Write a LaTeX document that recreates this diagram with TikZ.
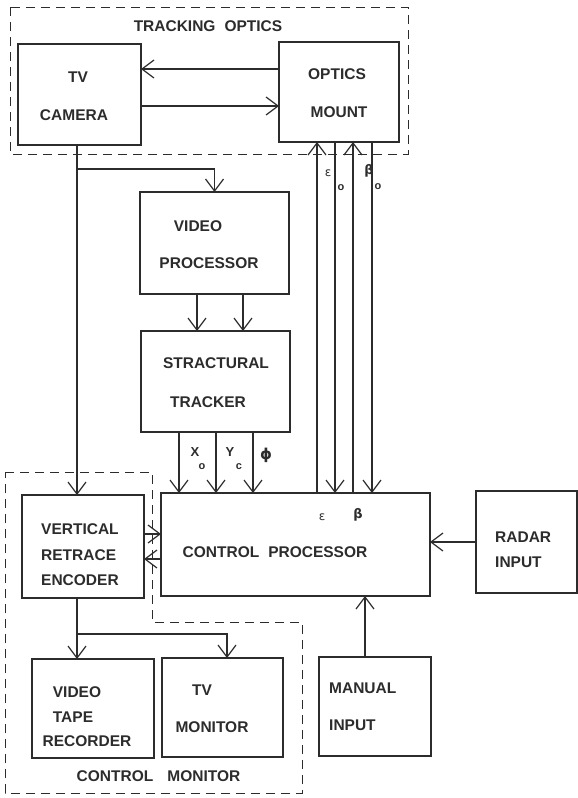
\documentclass[tikz,border=0pt]{standalone}
\usepackage{fontspec}
\setmainfont{Liberation Sans}
\newfontfamily\grk{DejaVu Sans}
\usetikzlibrary{arrows.meta}
\definecolor{ink}{HTML}{2C2C2C}
\begin{document}
\begin{tikzpicture}[x=1pt,y=-1pt,
  box/.style={draw=ink, line width=1.2pt, inner sep=0pt, outer sep=0pt},
  arr/.style={draw=ink, line width=1.2pt, -{Straight Barb[length=12pt,width=18pt,line width=1.2pt]}},
  dashbox/.style={draw=ink, line width=1pt, dash pattern=on 9pt off 6pt},
  lbl/.style={text=ink, inner sep=0pt, font=\fontsize{15.5}{18}\selectfont\bfseries},
  sym/.style={text=ink, inner sep=0pt, font=\fontsize{13}{15}\selectfont\bfseries},
  sub/.style={text=ink, inner sep=0pt, font=\fontsize{11}{12}\selectfont\bfseries},
  grksym/.style={text=ink, inner sep=0pt, font=\grk\fontsize{13}{15}\selectfont\bfseries}]
\useasboundingbox (0,0) rectangle (578,798);
\fill[white] (0,0) rectangle (578,798);

% dashed groups
\draw[dashbox] (10,7) rectangle (408,154);
\draw[dashbox] (5,472) -- (152,472) -- (152,622) -- (302,622) -- (302,793) -- (5,793) -- cycle;

% boxes
\node[box, minimum width=123pt, minimum height=101pt] (cam) at (79.5,94.5) {};
\node[box, minimum width=120pt, minimum height=100pt] (mount) at (339,92) {};
\node[box, minimum width=149pt, minimum height=102pt] (vp) at (214.5,243) {};
\node[box, minimum width=149pt, minimum height=101pt] (trk) at (215.5,381.5) {};
\node[box, minimum width=269pt, minimum height=103pt] (cp) at (295.5,544.5) {};
\node[box, minimum width=122pt, minimum height=103pt] (vre) at (83,546.5) {};
\node[box, minimum width=101pt, minimum height=102pt] (radar) at (526.5,542) {};
\node[box, minimum width=112pt, minimum height=99pt] (manual) at (375,706.5) {};
\node[box, minimum width=122pt, minimum height=99pt] (vtr) at (93,708.5) {};
\node[box, minimum width=121pt, minimum height=99pt] (tvm) at (222.5,707.5) {};

% labels
\node[lbl] (tTO) at (208,26) {TRACKING\hspace{9pt}OPTICS};
\node[lbl] (tTV) at (78,77) {TV};
\node[lbl] (tCAM) at (74,115) {CAMERA};
\node[lbl] (tOPT) at (337,74) {OPTICS};
\node[lbl] (tMNT) at (339,112) {MOUNT};
\node[lbl] (tVID) at (198,226) {VIDEO};
\node[lbl] (tPRO) at (209,263) {PROCESSOR};
\node[lbl] (tSTR) at (216,363) {STRACTURAL};
\node[lbl] (tTRK) at (208,402) {TRACKER};
\node[lbl] (tCP) at (275,552) {CONTROL\hspace{9pt}PROCESSOR};
\node[lbl, anchor=west] (tVER) at (41,529) {VERTICAL};
\node[lbl, anchor=west] (tRET) at (41,555) {RETRACE};
\node[lbl, anchor=west] (tENC) at (41,580) {ENCODER};
\node[lbl] (tVV) at (77,692) {VIDEO};
\node[lbl] (tTAPE) at (73,717) {TAPE};
\node[lbl] (tREC) at (87,741) {RECORDER};
\node[lbl] (tTV2) at (202,690) {TV};
\node[lbl] (tMON) at (212,727) {MONITOR};
\node[lbl, anchor=west] (tRAD) at (495,537) {RADAR};
\node[lbl, anchor=west] (tRIN) at (495,562) {INPUT};
\node[lbl, anchor=west] (tMAN) at (329,688) {MANUAL};
\node[lbl, anchor=west] (tMIN) at (329,725) {INPUT};
\node[lbl] (tCM) at (158.5,776) {CONTROL\hspace{14pt}MONITOR};

% symbols
\node[sym] (sX) at (195,452) {X};
\node[sub] (sXo) at (202,467) {o};
\node[sym] (sY) at (230,452) {Y};
\node[sub] (sYc) at (239,467) {c};
\node[grksym, font=\grk\fontsize{15}{17}\selectfont\bfseries] (sPhi) at (266,455) {ϕ};
\node[grksym, font=\grk\fontsize{12}{14}\selectfont] (sE) at (322,517) {ε};
\node[grksym] (sB) at (358,515) {β};
\node[grksym, font=\grk\fontsize{12}{14}\selectfont] (sE0) at (328,173) {ε};
\node[sub] (sE0o) at (341,188) {o};
\node[grksym] (sB0) at (369,171) {β};
\node[sub] (sB0o) at (378,187) {o};

% connectors
\draw[arr] (mount.west |- 0,69) -- (cam.east |- 0,69);
\draw[arr] (cam.east |- 0,106) -- (mount.west |- 0,106);
\draw[arr] (cam.south -| 77,0) -- (vre.north -| 77,0);
\coordinate (br1) at (77,169);
\draw[arr] (br1) -| (vp.north);
\draw[arr] (vp.south -| 197,0) -- (trk.north -| 197,0);
\draw[arr] (vp.south -| 243,0) -- (trk.north -| 243,0);
\draw[arr] (trk.south -| 179,0) -- (cp.north -| 179,0);
\draw[arr] (trk.south -| 216,0) -- (cp.north -| 216,0);
\draw[arr] (trk.south -| 253,0) -- (cp.north -| 253,0);
\draw[arr] (cp.north -| 317,0) -- (mount.south -| 317,0);
\draw[arr] (mount.south -| 335,0) -- (cp.north -| 335,0);
\draw[arr] (cp.north -| 353,0) -- (mount.south -| 353,0);
\draw[arr] (mount.south -| 372,0) -- (cp.north -| 372,0);
\draw[arr] (vre.east |- 0,534) -- (cp.west |- 0,534);
\draw[arr] (cp.west |- 0,559) -- (vre.east |- 0,559);
\draw[arr] (radar.west |- 0,542) -- (cp.east |- 0,542);
\draw[arr] (manual.north -| 365,0) -- (cp.south -| 365,0);
\draw[arr] (vre.south -| 77,0) -- (vtr.north -| 77,0);
\coordinate (br2) at (77,634);
\draw[arr] (br2) -| (tvm.north -| 227,0);
\end{tikzpicture}
\end{document}
